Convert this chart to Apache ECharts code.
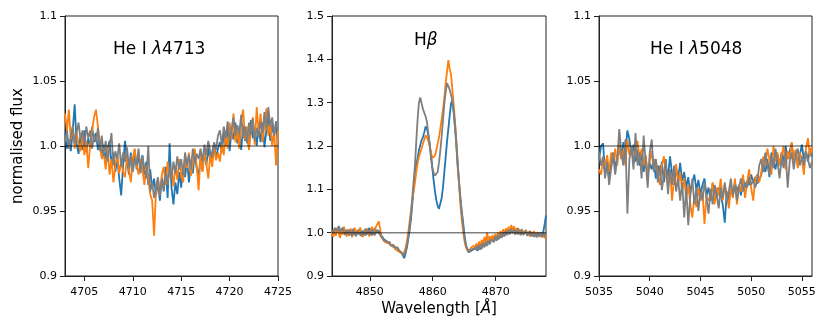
<!DOCTYPE html>
<html>
<head>
<meta charset="utf-8">
<script src="https://cdn.jsdelivr.net/npm/echarts@6/dist/echarts.min.js"></script>
<style>html,body{margin:0;padding:0;background:#fff;}#c{width:830px;height:332px;}</style>
</head>
<body>
<div id="c"></div>
<script>
// ---- wavelength sampling (start, step, count) ----
const sampHeI4713 = [4703, 0.2, 111];
const sampHb = [4844, 0.2125, 161];
const sampHeI5048 = [5035, 0.2, 106];

// ---- axis ranges / ticks ----
const xRangeHeI4713 = [4703, 4725];
const xRangeHb = [4844, 4878];
const xRangeHeI5048 = [5035, 5056];
const xTicksHeI4713 = [4705, 4710, 4715, 4720, 4725];
const xTicksHb = [4850, 4860, 4870];
const xTicksHeI5048 = [5035, 5040, 5045, 5050, 5055];
const yTicksHeI = [0.9, 0.95, 1.0, 1.05, 1.1];
const yTicksHb = [0.9, 1.0, 1.1, 1.2, 1.3, 1.4, 1.5];
const continuumLevel = 1.0;

// ---- He I 4713 fluxes ----
const blueHeI4713 = [
1.010,0.998,1.005,0.996,1.012,1.032,1.002,0.994,1.008,0.997,
1.012,0.995,1.006,0.999,1.015,1.003,1.010,0.997,1.004,0.992,
1.001,0.990,0.998,1.004,0.986,0.995,0.980,0.991,0.975,0.962,
0.985,1.004,0.990,0.978,0.995,0.983,0.997,0.982,0.992,0.985,
0.993,0.978,0.988,0.970,0.982,0.967,0.975,0.962,0.972,0.958,
0.976,0.965,0.984,0.960,1.002,0.968,0.955,0.972,0.963,0.980,
0.968,0.985,0.976,0.990,0.972,0.987,0.979,0.994,0.983,0.978,
0.990,0.981,0.996,0.985,0.999,0.988,0.995,1.002,0.991,0.998,
1.003,0.995,1.010,1.000,1.015,0.996,1.012,1.005,1.018,1.002,
1.010,0.997,1.016,1.004,1.011,0.998,1.020,1.006,1.013,1.000,
1.015,1.003,1.018,0.999,1.012,1.022,1.004,1.016,1.008,1.019,
0.998];
const orangeHeI4713 = [
1.025,1.012,1.028,1.005,1.015,0.998,1.010,1.002,0.996,1.008,
0.993,1.004,0.983,1.001,1.012,1.022,1.028,1.015,1.002,0.990,
0.995,0.982,0.999,0.978,0.990,0.972,0.985,0.994,0.979,0.988,
0.980,0.976,0.993,0.982,0.972,0.990,0.998,0.985,0.978,0.990,
0.982,0.970,0.985,0.975,0.963,0.958,0.931,0.966,0.975,0.962,
0.978,0.984,0.970,0.988,0.976,0.982,0.969,0.985,0.974,0.990,
0.978,0.972,0.992,0.983,0.995,0.977,0.986,0.998,0.985,0.966,
0.993,0.980,0.997,0.986,0.975,0.994,0.984,0.999,0.989,0.995,
0.988,1.002,0.993,1.010,0.998,1.018,1.005,1.025,1.003,1.012,
0.998,1.020,1.028,1.005,1.015,0.997,1.012,1.022,1.001,1.030,
1.010,1.025,1.003,1.016,1.029,1.008,1.018,1.000,1.012,0.985,
1.012];
const grayHeI4713 = [
1.003,1.012,0.998,1.008,1.015,1.002,1.010,1.018,1.005,1.012,
1.000,1.015,1.006,1.012,0.998,1.009,1.003,1.014,0.996,1.008,
0.992,1.004,0.988,0.999,1.010,0.985,0.996,0.990,1.002,0.984,
0.995,0.988,0.999,0.984,0.993,0.980,0.990,0.986,0.998,0.979,
0.992,0.982,0.975,1.000,0.965,0.972,0.960,0.968,0.976,0.962,
0.974,0.966,0.980,0.970,0.984,0.975,0.988,0.979,0.992,0.982,
0.990,0.978,0.995,0.985,0.993,0.982,0.998,0.987,0.994,0.990,
0.998,0.988,1.001,0.993,1.004,0.996,0.991,1.003,0.997,1.008,
1.012,1.001,1.015,1.006,1.019,1.004,1.013,1.022,1.008,1.016,
1.010,1.024,1.006,1.015,1.002,1.018,1.009,1.021,1.004,1.014,
1.007,1.019,1.010,1.026,1.012,1.030,1.015,1.022,1.008,1.018,
1.012];

// ---- H beta fluxes ----
const blueHb = [
1.004,0.996,1.009,1.013,1.002,1.015,1.007,0.999,1.012,1.004,0.995,1.007,
1.002,0.993,1.006,0.998,1.009,0.994,1.004,0.997,1.008,1.000,0.992,1.005,
0.998,1.009,0.996,1.006,1.011,1.000,0.994,1.005,1.010,0.999,1.006,1.009,
1.000,0.993,0.990,0.984,0.986,0.980,0.978,0.974,0.972,0.969,0.970,0.966,
0.962,0.964,0.958,0.955,0.953,0.948,0.941,0.952,0.966,0.985,1.005,1.030,
1.065,1.100,1.132,1.155,1.172,1.190,1.202,1.214,1.220,1.232,1.245,1.240,
1.225,1.205,1.180,1.150,1.120,1.095,1.075,1.062,1.055,1.058,1.080,1.105,
1.140,1.175,1.210,1.240,1.270,1.298,1.305,1.275,1.240,1.200,1.150,1.115,
1.080,1.050,1.025,0.995,0.975,0.962,0.955,0.952,0.958,0.956,0.962,0.958,
0.967,0.958,0.970,0.961,0.973,0.976,0.968,0.980,0.972,0.983,0.975,0.986,
0.989,0.980,0.991,0.994,0.984,0.997,0.989,1.001,0.992,1.004,0.995,1.007,
1.009,0.998,1.011,1.001,1.013,1.002,0.999,1.010,1.000,0.996,1.008,0.998,
0.995,1.006,0.996,0.993,1.004,0.994,0.991,1.002,0.993,0.990,1.001,0.992,
1.000,0.991,1.002,1.020,1.040];
const orangeHb = [
1.002,0.990,1.006,0.993,1.012,1.000,0.988,1.009,0.995,1.014,1.001,0.991,
1.007,0.994,1.010,0.989,1.004,1.011,0.992,1.006,0.996,1.012,0.999,0.990,
1.005,0.995,1.010,1.000,0.991,1.007,1.013,0.996,1.005,1.015,1.020,1.026,
1.008,0.990,0.985,0.980,0.984,0.976,0.973,0.978,0.969,0.966,0.971,0.963,
0.966,0.958,0.962,0.955,0.958,0.950,0.955,0.965,0.980,1.000,1.025,1.050,
1.075,1.095,1.115,1.140,1.160,1.175,1.185,1.195,1.205,1.215,1.225,1.220,
1.212,1.200,1.185,1.172,1.168,1.178,1.190,1.205,1.220,1.240,1.262,1.285,
1.312,1.345,1.372,1.398,1.378,1.365,1.330,1.295,1.255,1.210,1.160,1.110,
1.065,1.030,1.005,0.982,0.968,0.960,0.962,0.958,0.966,0.962,0.970,0.965,
0.975,0.965,0.980,0.967,0.984,0.972,0.990,0.975,1.000,0.979,0.992,0.981,
0.994,0.983,0.997,0.986,1.000,0.989,1.004,0.993,1.008,0.996,1.010,0.999,
1.014,1.001,1.018,1.003,1.015,1.000,1.011,0.998,1.008,0.995,1.007,0.997,
0.994,1.005,0.993,1.003,0.991,1.002,0.992,1.004,0.993,0.989,1.001,0.990,
0.999,0.989,0.998,0.987,0.996];
const grayHb = [
1.006,0.998,1.011,1.015,1.004,1.013,1.002,0.998,1.010,1.001,0.995,1.005,
0.997,1.007,0.999,0.993,1.006,0.998,0.992,1.003,1.007,0.995,1.004,0.994,
1.003,0.993,1.006,0.997,1.004,0.995,1.007,0.999,0.994,1.006,1.009,0.999,
0.996,0.990,0.987,0.982,0.985,0.979,0.976,0.978,0.972,0.969,0.972,0.966,
0.963,0.966,0.960,0.957,0.954,0.950,0.947,0.956,0.970,0.990,1.012,1.040,
1.080,1.118,1.155,1.210,1.262,1.300,1.312,1.298,1.285,1.282,1.268,1.255,
1.230,1.205,1.172,1.150,1.138,1.132,1.128,1.140,1.162,1.190,1.222,1.260,
1.298,1.325,1.345,1.348,1.330,1.318,1.305,1.280,1.250,1.205,1.160,1.118,
1.078,1.045,1.018,0.990,0.972,0.962,0.958,0.960,0.956,0.962,0.959,0.965,
0.959,0.971,0.961,0.973,0.963,0.976,0.966,0.979,0.969,0.982,0.973,0.985,
0.988,0.978,0.991,0.981,0.994,0.985,0.998,0.988,1.001,0.991,1.004,0.994,
1.006,0.996,1.009,0.998,1.007,0.995,1.006,0.996,1.005,0.994,1.004,0.995,
0.992,1.003,0.993,0.990,1.001,0.991,1.000,0.990,0.999,0.989,1.000,0.991,
0.999,0.990,1.000,0.991,1.001];

// ---- He I 5048 fluxes ----
const blueHeI5048 = [
0.990,1.000,1.002,0.978,0.985,0.975,0.988,0.995,0.982,0.992,
0.998,0.990,1.003,0.996,1.012,1.005,0.993,1.001,0.988,0.997,
0.985,0.995,0.980,0.992,0.978,0.987,0.982,0.990,0.975,0.985,
0.978,0.988,0.972,0.984,0.976,0.992,0.979,0.970,0.983,0.975,
0.987,0.973,0.980,0.968,0.976,0.964,0.972,0.978,0.966,0.974,
0.963,0.970,0.975,0.962,0.968,0.958,0.971,0.965,0.960,0.968,
0.962,0.955,0.941,0.965,0.958,0.969,0.962,0.972,0.965,0.970,
0.962,0.975,0.968,0.973,0.970,0.978,0.972,0.976,0.971,0.974,
0.978,0.985,0.980,0.990,0.976,0.995,0.988,0.982,0.992,0.986,
0.995,0.988,1.000,0.990,0.996,1.002,0.989,0.997,0.985,0.993,
1.001,0.990,0.996,0.988,0.998,0.992];
const orangeHeI5048 = [
0.982,0.978,0.990,0.985,0.993,0.980,0.995,0.988,0.998,0.985,
1.003,0.990,0.997,0.985,1.005,0.993,0.999,0.987,0.996,1.004,
0.990,0.998,0.985,0.993,0.976,0.988,0.996,0.982,0.990,0.978,
0.970,0.985,0.992,0.978,0.968,0.982,0.958,0.975,0.986,0.970,
0.980,0.965,0.975,0.960,0.970,0.955,0.945,0.962,0.953,0.968,
0.958,0.965,0.940,0.962,0.958,0.960,0.972,0.955,0.968,0.962,
0.975,0.958,0.970,0.963,0.952,0.968,0.960,0.975,0.955,0.970,
0.965,0.978,0.960,0.972,0.982,0.968,0.958,0.975,0.978,0.972,
0.980,0.992,0.985,0.998,0.990,0.978,1.000,0.988,0.995,0.985,
0.993,1.000,0.982,0.996,0.990,1.003,0.988,0.997,0.983,0.995,
0.990,0.978,0.998,1.006,0.992,1.000];
const grayHeI5048 = [
0.995,0.985,0.992,0.975,0.988,0.970,0.983,0.993,0.978,0.990,
1.013,0.995,0.985,1.005,0.948,0.990,1.000,0.982,1.010,0.985,
0.995,0.975,1.008,0.988,0.968,0.995,1.005,0.980,0.990,0.972,
0.985,0.966,0.978,0.990,0.963,0.982,0.970,0.985,0.965,0.975,
0.958,0.972,0.945,0.968,0.939,0.962,0.975,0.955,0.968,0.950,
0.965,0.958,0.972,0.960,0.948,0.967,0.955,0.970,0.962,0.952,
0.968,0.960,0.972,0.957,0.965,0.975,0.962,0.970,0.958,0.968,
0.975,0.965,0.972,0.968,0.976,0.970,0.974,0.968,0.973,0.985,
0.990,0.980,0.995,0.985,0.978,0.992,0.983,0.998,0.988,0.975,
0.990,0.983,0.996,0.968,0.988,0.995,0.982,0.993,0.998,0.985,
0.992,0.985,0.996,0.990,0.983,0.988];

// ---- text ----
const panelTitles = [
  ['He I ', 'λ', '4713'],
  ['H', 'β', ''],
  ['He I ', 'λ', '5048']
];
const yAxisName = 'normalised flux';
const xAxisName = ['Wavelength [', 'Å', ']'];

const colors = ['#1f77b4', '#ff7f0e', '#7f7f7f'];
const FONT = 'DejaVu Sans';

function waveGrid(s) { const a = []; for (let i = 0; i < s[2]; i++) a.push(+(s[0] + i * s[1]).toFixed(4)); return a; }
function pairs(w, f) { return f.map((v, i) => [w[i], v]); }

const panels = [
  { samp: sampHeI4713, xr: xRangeHeI4713, xt: xTicksHeI4713, yt: yTicksHeI, series: [blueHeI4713, orangeHeI4713, grayHeI4713] },
  { samp: sampHb, xr: xRangeHb, xt: xTicksHb, yt: yTicksHb, series: [blueHb, orangeHb, grayHb] },
  { samp: sampHeI5048, xr: xRangeHeI5048, xt: xTicksHeI5048, yt: yTicksHeI, series: [blueHeI5048, orangeHeI5048, grayHeI5048] }
];
const gridBoxes = [
  { left: 65, top: 16, width: 213, height: 260 },
  { left: 332, top: 16, width: 214, height: 260 },
  { left: 599, top: 16, width: 213, height: 260 }
];

function yFmt(v) {
  let s = String(+(+v).toFixed(2));
  if (s.indexOf('.') < 0) s += '.0';
  return s;
}

const grid = [], xAxis = [], yAxis = [], series = [];
panels.forEach((p, k) => {
  grid.push(Object.assign({ show: true, borderColor: '#222', borderWidth: 1, backgroundColor: 'transparent' }, gridBoxes[k]));
  xAxis.push({
    type: 'value', gridIndex: k, min: p.xr[0], max: p.xr[1],
    axisLine: { show: true, onZero: false, lineStyle: { color: '#222', width: 1 } },
    axisTick: { show: true, length: 5, customValues: p.xt, lineStyle: { color: '#222' } },
    axisLabel: { customValues: p.xt, color: '#000', fontSize: 11, fontFamily: FONT, margin: 11, formatter: v => String(v) },
    splitLine: { show: false }
  });
  yAxis.push({
    type: 'value', gridIndex: k, min: p.yt[0], max: p.yt[p.yt.length - 1],
    axisLine: { show: true, onZero: false, lineStyle: { color: '#222', width: 1 } },
    axisTick: { show: true, length: 5, customValues: p.yt, lineStyle: { color: '#222' } },
    axisLabel: { customValues: p.yt, color: '#000', fontSize: 11, fontFamily: FONT, margin: 8, formatter: yFmt },
    splitLine: { show: false }
  });
  const w = waveGrid(p.samp);
  p.series.forEach((f, j) => {
    series.push({
      type: 'line', xAxisIndex: k, yAxisIndex: k, data: pairs(w, f),
      showSymbol: false, symbol: 'none', animation: false, silent: true,
      lineStyle: { color: colors[j], width: 1.8 }, z: 2 + j
    });
  });
  series.push({
    type: 'line', xAxisIndex: k, yAxisIndex: k,
    data: [[p.xr[0], continuumLevel], [p.xr[1], continuumLevel]],
    showSymbol: false, symbol: 'none', animation: false, silent: true,
    lineStyle: { color: 'rgba(0,0,0,0.5)', width: 1.5 }, z: 6
  });
});

function richText(parts, x, y, size) {
  return {
    type: 'text', x: x, y: y, z: 100,
    style: {
      text: parts[0] + '{i|' + parts[1] + '}' + parts[2],
      fontSize: size, fontFamily: FONT, fill: '#000',
      align: 'left', verticalAlign: 'middle',
      rich: { i: { fontStyle: 'italic', fontSize: size, fontFamily: FONT, fill: '#000' } }
    }
  };
}

const graphic = [
  richText(panelTitles[0], 113, 50, 17),
  richText(panelTitles[1], 414, 41, 17),
  richText(panelTitles[2], 650, 50, 17),
  {
    type: 'text', x: 18, y: 146, rotation: Math.PI / 2, z: 100,
    style: { text: yAxisName, fontSize: 15, fontFamily: FONT, fill: '#000', align: 'center', verticalAlign: 'middle' }
  },
  {
    type: 'text', x: 439, y: 309, z: 100,
    style: {
      text: xAxisName[0] + '{i|' + xAxisName[1] + '}' + xAxisName[2],
      fontSize: 15, fontFamily: FONT, fill: '#000', align: 'center', verticalAlign: 'middle',
      rich: { i: { fontStyle: 'italic', fontSize: 15, fontFamily: FONT, fill: '#000' } }
    }
  }
];

const chart = echarts.init(document.getElementById('c'), null, { renderer: 'canvas' });
chart.setOption({ animation: false, backgroundColor: '#fff', grid, xAxis, yAxis, series, graphic });
</script>
</body>
</html>
